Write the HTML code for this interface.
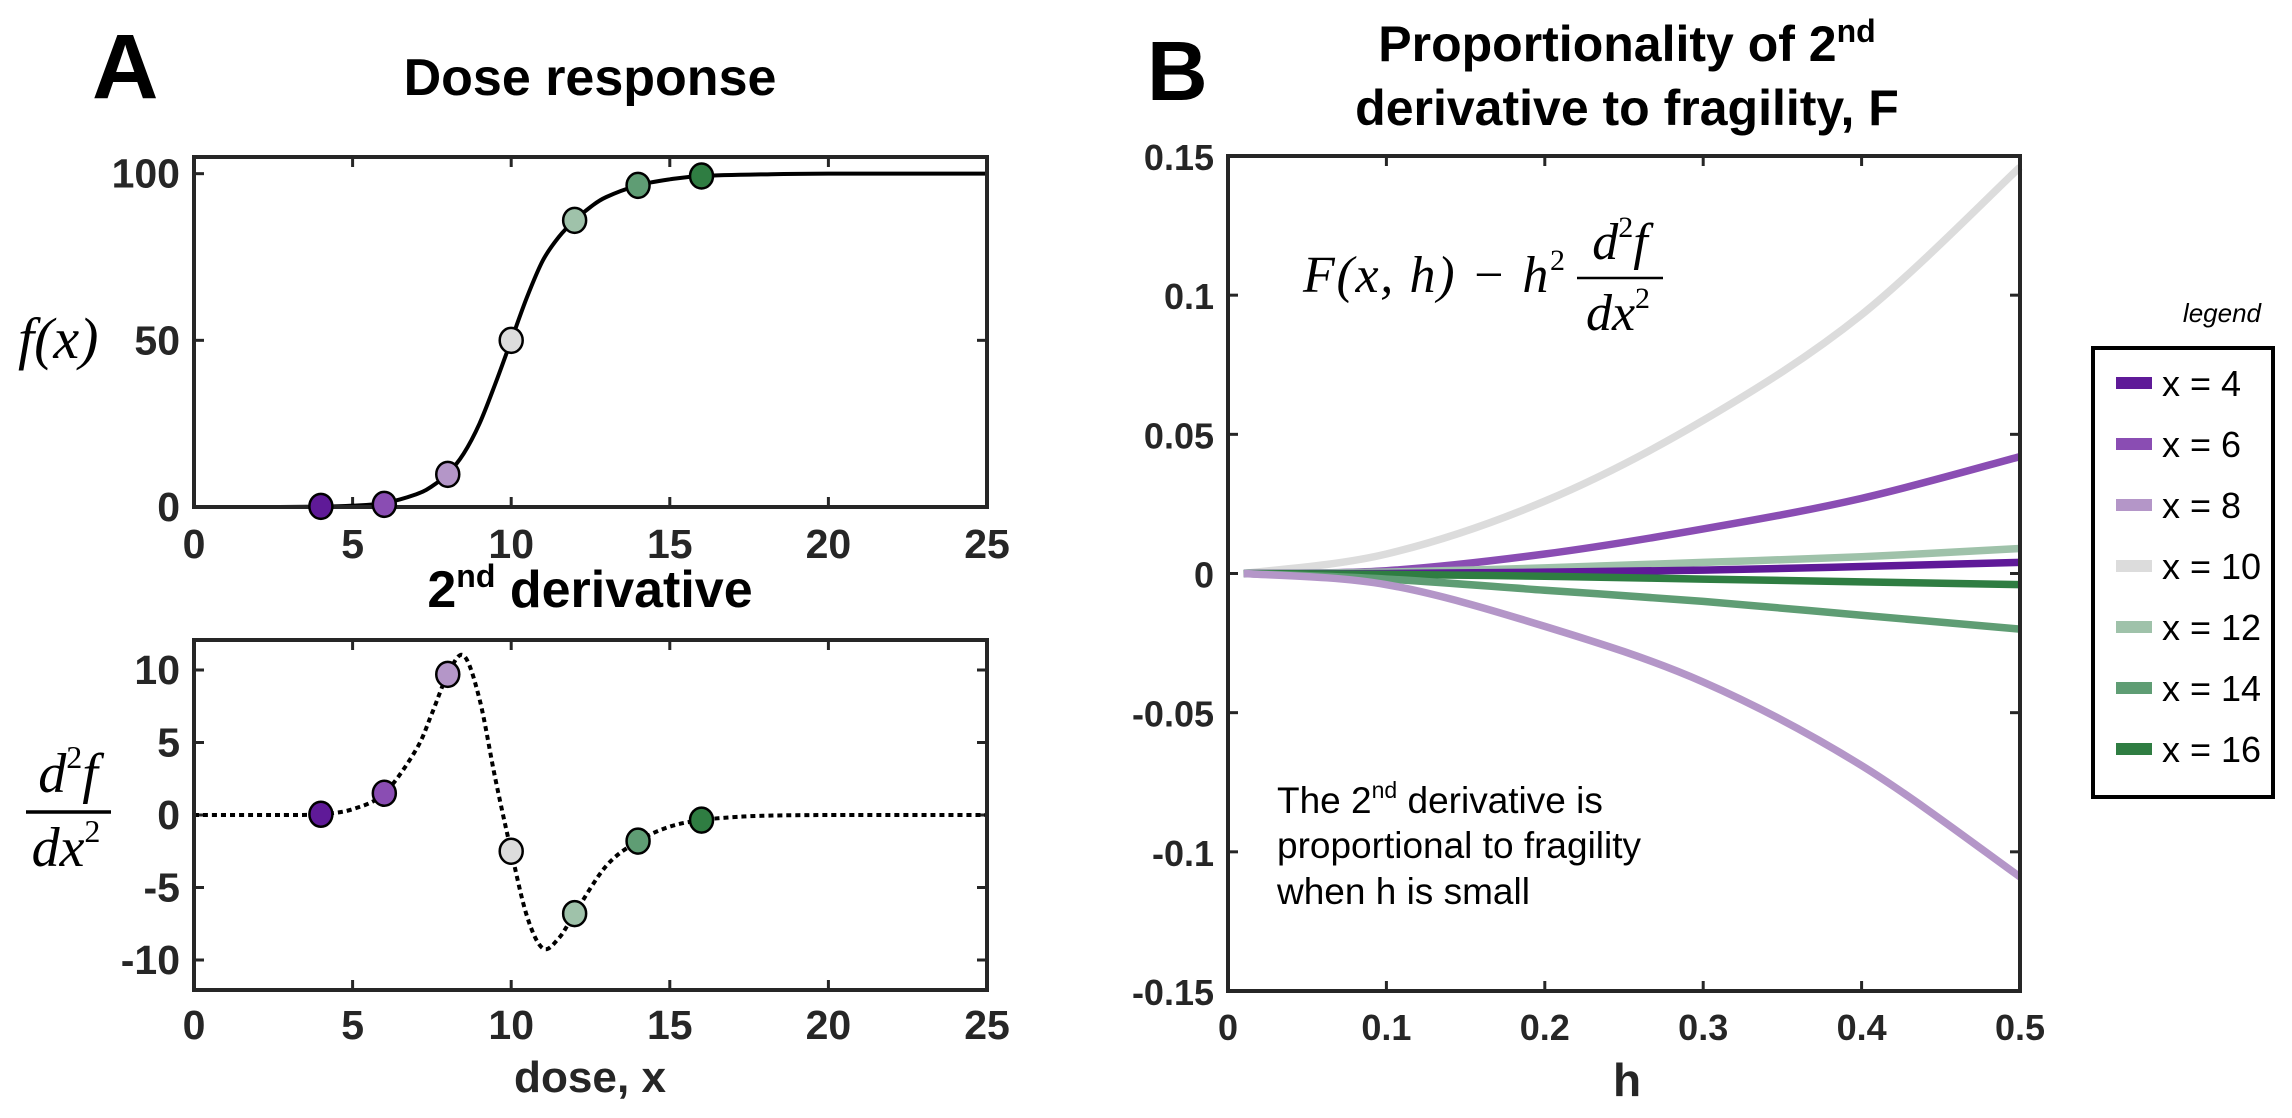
<!DOCTYPE html>
<html><head><meta charset="utf-8"><style>
html,body{margin:0;padding:0;background:#fff;}
svg{display:block;}
.tk{font-family:"Liberation Sans Narrow","Liberation Sans",sans-serif;font-weight:bold;font-size:41px;fill:#262626;}
.tkb{font-family:"Liberation Sans",sans-serif;font-weight:bold;font-size:36px;fill:#262626;}
.ttl{font-family:"Liberation Sans Narrow","Liberation Sans",sans-serif;font-weight:bold;font-size:52px;fill:#000;}
.math{font-family:"Liberation Serif",serif;font-style:italic;fill:#000;}
.lg{font-family:"Liberation Sans",sans-serif;font-size:36px;fill:#000;}
</style></head><body>
<svg id="fig" width="2292" height="1118" viewBox="0 0 2292 1118" xmlns="http://www.w3.org/2000/svg">
<g id="gA1"></g>
<g id="gA2"></g>
<g id="gB"></g>
<text x="92" y="98" font-family="Liberation Sans,sans-serif" font-weight="bold" font-size="92">A</text>
<text x="590" y="95" text-anchor="middle" class="ttl">Dose response</text>
<text x="590" y="607" text-anchor="middle" class="ttl">2<tspan style="font-size:32px" dy="-20">nd</tspan><tspan dy="20"> derivative</tspan></text>
<text x="514" y="1092" class="ttl" style="font-size:44px;fill:#262626" textLength="152" lengthAdjust="spacingAndGlyphs">dose, x</text>
<text x="18" y="358" class="math" font-size="58">f(x)</text>
<g>
<text x="68" y="792" text-anchor="middle" class="math" font-size="56">d<tspan font-size="32" dy="-24" font-style="normal">2</tspan><tspan dy="24">f</tspan></text>
<line x1="26" y1="812" x2="111" y2="812" stroke="#000" stroke-width="3.5"/>
<text x="66" y="866" text-anchor="middle" class="math" font-size="56">dx<tspan font-size="32" dy="-24" font-style="normal">2</tspan></text>
</g>
<text x="1147" y="100" font-family="Liberation Sans,sans-serif" font-weight="bold" font-size="84">B</text>
<text x="1627" y="61" text-anchor="middle" font-family="Liberation Sans,sans-serif" font-weight="bold" font-size="50">Proportionality of 2<tspan font-size="32" dy="-19">nd</tspan></text>
<text x="1627" y="125" text-anchor="middle" font-family="Liberation Sans,sans-serif" font-weight="bold" font-size="50">derivative to fragility, F</text>
<text x="1627" y="1096" text-anchor="middle" class="tkb" style="font-size:46px">h</text>
<g>
<text x="1303" y="292" class="math" font-size="52" textLength="262" lengthAdjust="spacing">F(x, h) − h<tspan font-size="30" dy="-22" font-style="normal">2</tspan></text>
<text x="1620" y="259" text-anchor="middle" class="math" font-size="52">d<tspan font-size="30" dy="-22" font-style="normal">2</tspan><tspan dy="22">f</tspan></text>
<line x1="1577" y1="278" x2="1663" y2="278" stroke="#000" stroke-width="2.5"/>
<text x="1618" y="330" text-anchor="middle" class="math" font-size="52">dx<tspan font-size="30" dy="-22" font-style="normal">2</tspan></text>
</g>
<g font-family="Liberation Sans,sans-serif" font-size="37">
<text x="1277" y="813">The 2<tspan font-size="23" dy="-15">nd</tspan><tspan dy="15"> derivative is</tspan></text>
<text x="1277" y="858">proportional to fragility</text>
<text x="1277" y="904">when h is small</text>
</g>
<text x="2261" y="322" text-anchor="end" font-family="Liberation Sans,sans-serif" font-style="italic" font-size="26">legend</text>
<rect x="2093" y="348" width="180" height="449" fill="#fff" stroke="#000" stroke-width="4"/>
<g id="legend"></g>
</svg>
<script>
// Panel A data
const doseX = [0,2,4,5,6,7,7.5,8,8.5,9,9.5,10,10.5,11,11.5,12,12.5,13,14,15,16,18,20,25];
const doseY = [0,0,0.1,0.4,1.2,3.8,6.2,10,16,25,37,50,63,74,81,86,90,93,96.5,98.3,99.3,99.8,100,100];
const d2X = [0,2,3,4,5,6,7,7.5,8,8.5,9,9.5,10,10.5,11,11.5,12,13,14,15,16,17,18,20,25];
const d2Y = [0,0,0,0.05,0.4,1.5,4.5,7,9.7,11,8,2.5,-2.5,-7,-9.2,-8.5,-6.8,-3.5,-1.8,-0.8,-0.35,-0.15,-0.05,0,0];
const ptX = [4,6,8,10,12,14,16];
const ptF = [0.2,0.8,9.8,50,86,96.5,99.3];
const ptD2 = [0.05,1.5,9.7,-2.5,-6.8,-1.8,-0.35];
const colors = ["#5f1a98","#8a4db3","#b496c8","#dcdcdc","#9fc2aa","#5f9d74","#2f7d42"];
const xTicksA = [0,5,10,15,20,25];
const yTicksA1 = [0,50,100];
const yTicksA2 = [-10,-5,0,5,10];
// Panel B data
const hVals = [0.01,0.1,0.2,0.3,0.4,0.5];
const legendLabels = ["x = 4","x = 6","x = 8","x = 10","x = 12","x = 14","x = 16"];
const sX4 = [0,0,0.0005,0.0012,0.0025,0.004];
const sX6 = [0,0.001,0.007,0.016,0.027,0.042];
const sX8 = [0,-0.004,-0.019,-0.039,-0.069,-0.109];
const sX10 = [0,0.007,0.026,0.055,0.093,0.146];
const sX12 = [0,0.0005,0.002,0.004,0.006,0.009];
const sX14 = [0,-0.002,-0.006,-0.010,-0.015,-0.020];
const sX16 = [0,-0.0003,-0.001,-0.002,-0.003,-0.004];
const xTicksB = [0,0.1,0.2,0.3,0.4,0.5];
const xTickLabB = ["0","0.1","0.2","0.3","0.4","0.5"];
const yTicksB = [-0.15,-0.1,-0.05,0,0.05,0.1,0.15];
const yTickLabB = ["-0.15","-0.1","-0.05","0","0.05","0.1","0.15"];

const NS="http://www.w3.org/2000/svg";
function mk(tag,attrs,parent){const e=document.createElementNS(NS,tag);for(const k in attrs)e.setAttribute(k,attrs[k]);parent.appendChild(e);return e;}
function smooth(pts){let d="M"+pts[0][0]+","+pts[0][1];for(let i=0;i<pts.length-1;i++){const p0=pts[Math.max(0,i-1)],p1=pts[i],p2=pts[i+1],p3=pts[Math.min(pts.length-1,i+2)];const c1x=p1[0]+(p2[0]-p0[0])/6,c1y=p1[1]+(p2[1]-p0[1])/6,c2x=p2[0]-(p3[0]-p1[0])/6,c2y=p2[1]-(p3[1]-p1[1])/6;d+=" C"+c1x+","+c1y+" "+c2x+","+c2y+" "+p2[0]+","+p2[1];}return d;}

function axesBox(g,L,R,T,B,xs,ys,xt,yt,xl,yl,cls,xLabY,yLabX){
  mk("rect",{x:L,y:T,width:R-L,height:B-T,fill:"#fff",stroke:"none"},g);
  xt.forEach((v,i)=>{const x=xs(v);
    const t1=mk("line",{x1:x,y1:B,x2:x,y2:B-10,stroke:"#262626","stroke-width":3},g);
    
    
    mk("line",{x1:x,y1:T,x2:x,y2:T+10,stroke:"#262626","stroke-width":3},g);
    const t=mk("text",{x:x,y:xLabY,"text-anchor":"middle",class:cls},g);t.textContent=xl[i];
    
    });
  yt.forEach((v,i)=>{const y=ys(v);
    const t1=mk("line",{x1:L,y1:y,x2:L+10,y2:y,stroke:"#262626","stroke-width":3},g);
    
    
    mk("line",{x1:R,y1:y,x2:R-10,y2:y,stroke:"#262626","stroke-width":3},g);
    const t=mk("text",{x:yLabX,y:y+14,"text-anchor":"end",class:cls},g);t.textContent=yl[i];
    
    });
}
function frame(g,L,R,T,B){const f=mk("rect",{x:L,y:T,width:R-L,height:B-T,fill:"none",stroke:"#262626","stroke-width":4},g);
  
  }

// A1
(function(){const g=document.getElementById("gA1");const L=194,R=987,T=157,B=507;
 const xs=v=>L+(v-0)/25*(R-L), ys=v=>B-(v-0)/105*(B-T);
 axesBox(g,L,R,T,B,xs,ys,xTicksA,yTicksA1,xTicksA.map(String),yTicksA1.map(String),"tk",558,180);
 const p=mk("path",{d:smooth(doseX.map((x,i)=>[xs(x),ys(doseY[i])])),fill:"none",stroke:"#000","stroke-width":4},g);
 
 
 frame(g,L,R,T,B);
 ptX.forEach((x,i)=>{const c=mk("ellipse",{cx:xs(x),cy:ys(ptF[i]),rx:11.5,ry:12.5,fill:colors[i],stroke:"#000","stroke-width":2.5},g);
  
  });
})();
// A2
(function(){const g=document.getElementById("gA2");const L=194,R=987,T=640,B=990;
 const xs=v=>L+v/25*(R-L), ys=v=>B-(v+12.07)/24.14*(B-T);
 axesBox(g,L,R,T,B,xs,ys,xTicksA,yTicksA2,xTicksA.map(String),yTicksA2.map(String),"tk",1039,180);
 const p=mk("path",{d:smooth(d2X.map((x,i)=>[xs(x),ys(d2Y[i])])),fill:"none",stroke:"#000","stroke-width":4,"stroke-dasharray":"5 4"},g);
 
 
 frame(g,L,R,T,B);
 ptX.forEach((x,i)=>{const c=mk("ellipse",{cx:xs(x),cy:ys(ptD2[i]),rx:11.5,ry:12.5,fill:colors[i],stroke:"#000","stroke-width":2.5},g);
  
  });
})();
// B
(function(){const g=document.getElementById("gB");const L=1228,R=2020,T=156,B=991;
 const xs=v=>L+v/0.5*(R-L), ys=v=>B-(v+0.15)/0.3*(B-T);
 axesBox(g,L,R,T,B,xs,ys,xTicksB,yTicksB,xTickLabB,yTickLabB,"tkb",1040,1214);
 const series=[sX4,sX6,sX8,sX10,sX12,sX14,sX16];
 const order=[3,1,4,0,6,5,2];
 order.forEach(i=>{const p=mk("path",{d:smooth(hVals.map((h,j)=>[xs(h),ys(series[i][j])])),fill:"none",stroke:colors[i],"stroke-width":7.5},g);
  
  });
 frame(g,L,R,T,B);
 const lg=document.getElementById("legend");
 legendLabels.forEach((lab,i)=>{const y=383+i*61;
  const it=mk("g",{},lg);
  
  
  mk("line",{x1:2116,y1:y,x2:2152,y2:y,stroke:colors[i],"stroke-width":12},it);
  const t=mk("text",{x:2162,y:y+13,class:"lg"},it);t.textContent=lab;});
})();
</script>
</body></html>
